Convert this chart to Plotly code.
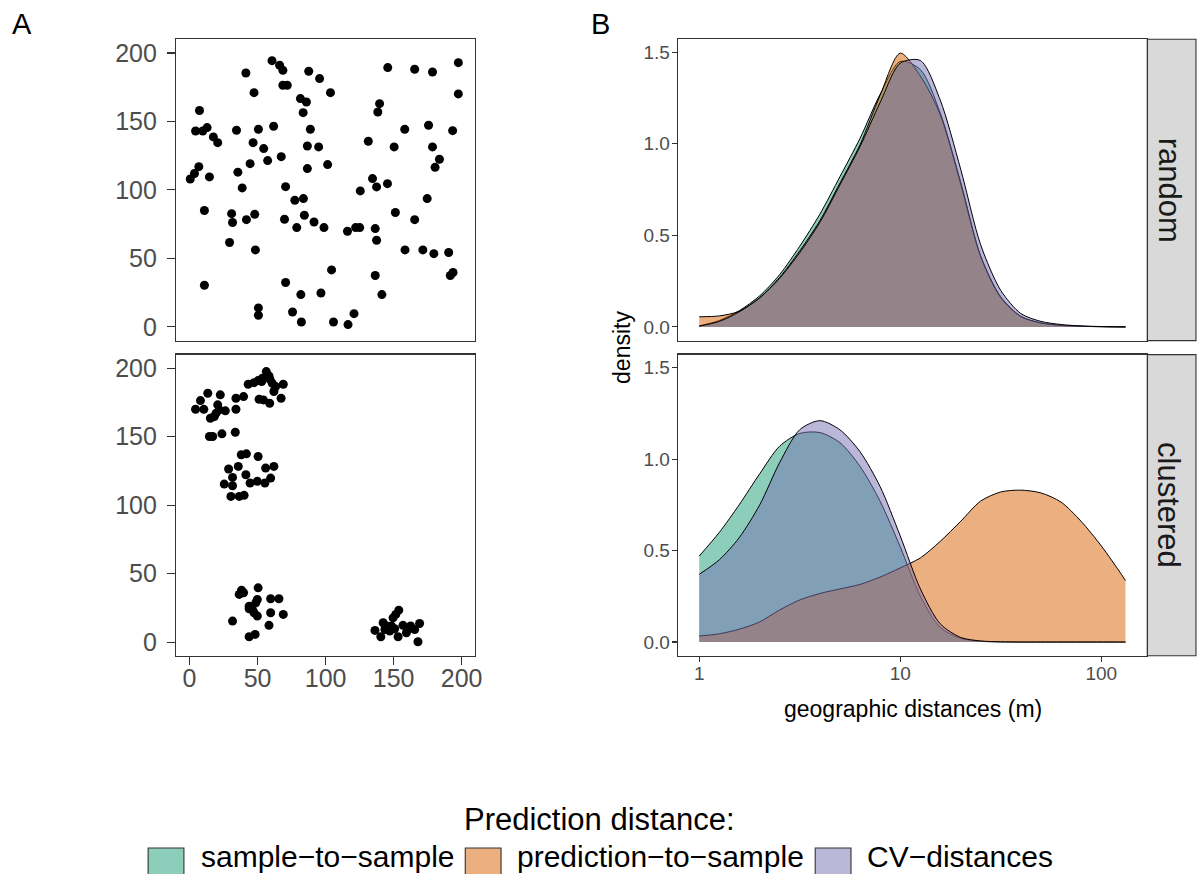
import plotly.graph_objects as go

W, H = 1199, 874


def px(x):
    return x / W


def py(y):
    return 1 - y / H


# ---------------- Panel A: sample locations ----------------
random_x = [0.5, 3.6, 6.8, 7.3, 4.4, 9.7, 12.9, 17.5, 20.7, 14.6, 10.9, 10.9, 29.4, 30.9, 31.6,
            34.5, 35.5, 38.7, 41.4, 44.5, 41.8, 46.7, 47.4, 47.9, 50.6, 54.5, 57.4, 48.4, 50.6,
            50.6, 60.6, 66.2, 68.6, 68.6, 71.8, 61.8, 67.4, 70.6, 69.8, 70.6, 81.5, 85.9, 83.5,
            87.6, 95.6, 103.6, 88.8, 86.6, 94.9, 86.6, 101.5, 77.4, 83.7, 84.4, 78.8, 91.5, 98.8,
            75.7, 82.2, 81.8, 96.6, 104.4, 105.8, 116.1, 120.9, 116.5, 122.1, 125.1, 125.5, 131.4,
            134.5, 137.5, 145.5, 136.5, 137.5, 136.5, 141.4, 139.7, 138.4, 145.7, 150.4, 151.3,
            158.2, 158.4, 165.5, 165.5, 171.5, 174.7, 175.7, 178.6, 178.6, 180.5, 183.7, 179.6,
            190.5, 191.7, 193.7, 193.4, 197.6, 197.6]
random_y = [108.0, 112.0, 117.0, 158.0, 143.0, 143.0, 145.5, 138.7, 134.5, 109.5, 85.0, 30.4,
            61.6, 82.7, 76.2, 143.6, 113.0, 101.5, 185.4, 119.2, 78.3, 134.5, 171.0, 82.2, 144.3,
            130.2, 121.4, 56.2, 13.9, 8.5, 194.4, 191.0, 187.3, 176.4, 176.4, 146.5, 124.3, 102.4,
            78.6, 32.4, 166.7, 164.2, 156.4, 186.6, 181.3, 171.0, 144.3, 132.1, 131.4, 115.6, 118.5,
            92.5, 93.7, 81.5, 72.5, 76.6, 72.5, 10.9, 3.6, 23.6, 24.8, 41.6, 3.6, 69.8, 9.7, 1.7,
            72.5, 72.5, 99.3, 135.5, 108.3, 102.2, 104.6, 71.8, 63.3, 37.5, 23.6, 163.0, 156.9,
            189.3, 131.4, 83.5, 144.3, 56.2, 188.1, 78.3, 56.2, 93.7, 147.2, 186.1, 131.4, 116.5,
            122.4, 53.5, 54.3, 37.5, 39.7, 143.3, 192.9, 170.1]

clustered_x = [4.4, 8.0, 10.5, 13.4, 15.3, 18.2, 21.9, 22.6, 20.7, 26.3, 14.6, 17.0, 23.8, 33.6,
               34.1, 34.1, 39.7, 19.5,
               43.1, 47.4, 50.4, 53.5, 56.4, 59.1, 60.8, 63.3, 68.9, 62.0, 67.3, 51.1, 54.3, 58.9,
               53.0, 58.4,
               41.8, 38.0, 50.4, 28.7, 35.8, 31.6, 25.5, 31.6, 30.4, 36.5, 40.1, 41.4, 44.5, 55.9,
               62.0, 59.6, 55.4, 49.8,
               31.6, 38.2, 36.5, 39.7, 50.4, 43.8, 48.7, 43.8, 47.4, 49.8, 59.6, 59.6, 65.7, 68.9,
               58.4, 43.8, 48.2, 46.2, 49.8,
               136.3, 140.6, 142.3, 144.8, 147.2, 149.6, 153.8, 151.6, 148.4, 153.3, 156.9, 159.4,
               162.5, 165.5, 169.1, 167.9, 150.8, 143.6, 160.6]
clustered_y = [170.1, 176.4, 170.0, 181.8, 163.5, 164.8, 169.6, 180.6, 173.3, 168.9, 150.2, 150.2,
               152.1, 153.3, 170.1, 178.1, 179.3, 167.2,
               188.3, 189.5, 191.0, 192.7, 197.6, 192.0, 189.0, 186.6, 188.3, 183.0, 178.1, 177.4,
               176.9, 174.5, 190.3, 194.4,
               137.5, 136.8, 135.6, 126.4, 128.3, 120.3, 115.4, 114.2, 106.4, 106.4, 107.2, 122.2,
               116.2, 127.1, 128.3, 119.8, 116.2, 117.4,
               15.3, 37.9, 34.8, 36.0, 39.6, 26.2, 28.7, 24.3, 21.4, 19.0, 21.4, 31.6, 31.6, 20.2,
               12.2, 3.9, 5.6, 23.8, 31.1,
               8.5, 3.9, 14.1, 11.7, 8.0, 17.7, 23.3, 20.2, 11.7, 3.9, 12.2, 6.8, 11.7, 9.2, 13.6,
               0.2, 9.7, 9.2, 9.2]

coord_ticks = [0, 50, 100, 150, 200]

# ---------------- Panel B: density of distances ----------------
dist_m = [1, 1.26, 1.58, 2.0, 2.51, 3.16, 3.98, 5.01, 6.31, 7.94, 10, 12.6, 15.8, 20, 25.1,
          31.6, 39.8, 50.1, 63.1, 79.4, 100, 126, 132]

random_s2s = [0.005, 0.035, 0.088, 0.17, 0.285, 0.44, 0.615, 0.82, 1.03, 1.27, 1.45, 1.405,
              1.17, 0.79, 0.39, 0.165, 0.058, 0.022, 0.009, 0.004, 0.001, 0.0, 0.0]
random_p2s = [0.055, 0.06, 0.085, 0.16, 0.27, 0.415, 0.58, 0.785, 0.995, 1.265, 1.495, 1.37,
              1.16, 0.78, 0.385, 0.16, 0.056, 0.021, 0.008, 0.003, 0.001, 0.0, 0.0]
random_cv = [0.004, 0.03, 0.082, 0.158, 0.265, 0.405, 0.57, 0.775, 0.985, 1.225, 1.44, 1.455,
             1.24, 0.86, 0.45, 0.2, 0.073, 0.03, 0.013, 0.005, 0.002, 0.0, 0.0]

clustered_s2s = [0.47, 0.60, 0.75, 0.92, 1.07, 1.14, 1.145, 1.09, 0.96, 0.77, 0.52, 0.25, 0.08,
                 0.02, 0.004, 0.001, 0.0, 0.0, 0.0, 0.0, 0.0, 0.0, 0.0]
clustered_p2s = [0.033, 0.045, 0.07, 0.11, 0.175, 0.23, 0.265, 0.29, 0.315, 0.355, 0.405, 0.46,
                 0.55, 0.66, 0.77, 0.82, 0.83, 0.815, 0.765, 0.66, 0.526, 0.37, 0.336]
clustered_cv = [0.37, 0.45, 0.57, 0.75, 0.98, 1.16, 1.21, 1.16, 1.04, 0.85, 0.58, 0.29, 0.10,
                0.025, 0.006, 0.001, 0.0, 0.0, 0.0, 0.0, 0.0, 0.0, 0.0]

series_names = ["sample−to−sample", "prediction−to−sample", "CV−distances"]
fill_colors = ["rgba(27,158,119,0.5)", "rgba(217,95,2,0.5)", "rgba(117,112,179,0.5)"]
facet_names = ["random", "clustered"]
density_ticks = [0.0, 0.5, 1.0, 1.5]
dist_ticks = [1, 10, 100]

FONT = "Liberation Sans, Arial, Helvetica, sans-serif"
BORDER = "#333333"
TICKCOL = "#4D4D4D"

fig = go.Figure()

# Panel A points
fig.add_trace(go.Scatter(x=random_x, y=random_y, mode="markers",
                         marker=dict(color="black", size=9), xaxis="x", yaxis="y",
                         showlegend=False, hoverinfo="skip"))
fig.add_trace(go.Scatter(x=clustered_x, y=clustered_y, mode="markers",
                         marker=dict(color="black", size=9), xaxis="x2", yaxis="y2",
                         showlegend=False, hoverinfo="skip"))

# Panel B densities
panels = [("x3", "y3", [random_s2s, random_p2s, random_cv]),
          ("x4", "y4", [clustered_s2s, clustered_p2s, clustered_cv])]
for xa, ya, series in panels:
    for name, col, vals in zip(series_names, fill_colors, series):
        fig.add_trace(go.Scatter(x=dist_m, y=vals, mode="lines", name=name,
                                 line=dict(color="black", width=1.0, shape="spline",
                                           smoothing=0.8),
                                 fill="tozeroy", fillcolor=col, xaxis=xa, yaxis=ya,
                                 showlegend=False, hoverinfo="skip"))

box = dict(showline=True, mirror=True, linecolor=BORDER, linewidth=1.1, showgrid=False,
           zeroline=False)

A_x = [px(177), px(478)]
B_x = [px(681.7), px(1154)]
top_y = [py(340), py(38.3)]
bot_y = [py(655.5), py(354)]

A_tickfont = dict(size=25, color=TICKCOL, family=FONT)
B_tickfont = dict(size=19, color=TICKCOL, family=FONT)

fig.update_layout(
    width=W, height=H, margin=dict(l=0, r=0, t=0, b=0),
    paper_bgcolor="white", plot_bgcolor="white",
    font=dict(family=FONT, color="black"),
    showlegend=False,
    xaxis=dict(domain=A_x, anchor="y", range=[-10, 210], showticklabels=False, ticks="",
               **box),
    yaxis=dict(domain=top_y, anchor="x", range=[-10, 210], tickvals=coord_ticks,
               ticks="outside", ticklen=8, tickwidth=1.1, tickcolor=BORDER,
               ticklabelstandoff=5, tickfont=A_tickfont, **box),
    xaxis2=dict(domain=A_x, anchor="y2", range=[-10, 210], tickvals=coord_ticks,
                ticks="outside", ticklen=8, tickwidth=1.1, tickcolor=BORDER,
                ticklabelstandoff=-8, tickfont=A_tickfont, **box),
    yaxis2=dict(domain=bot_y, anchor="x2", range=[-10, 210], tickvals=coord_ticks,
                ticks="outside", ticklen=8, tickwidth=1.1, tickcolor=BORDER,
                ticklabelstandoff=5, tickfont=A_tickfont, **box),
    xaxis3=dict(domain=B_x, anchor="y3", type="log", range=[-0.107, 2.229],
                showticklabels=False, ticks="", **box),
    yaxis3=dict(domain=top_y, anchor="x3", range=[-0.075, 1.571], tickvals=density_ticks,
                ticktext=[f"{v:.1f}" for v in density_ticks],
                ticks="outside", ticklen=5, tickwidth=1.1, tickcolor=BORDER,
                ticklabelstandoff=-2, tickfont=B_tickfont, **box),
    xaxis4=dict(domain=B_x, anchor="y4", type="log", range=[-0.107, 2.229],
                tickvals=dist_ticks, ticktext=[str(v) for v in dist_ticks],
                ticks="outside", ticklen=5, tickwidth=1.1, tickcolor=BORDER,
                ticklabelstandoff=-5, tickfont=B_tickfont, **box),
    yaxis4=dict(domain=bot_y, anchor="x4", range=[-0.075, 1.571], tickvals=density_ticks,
                ticktext=[f"{v:.1f}" for v in density_ticks],
                ticks="outside", ticklen=5, tickwidth=1.1, tickcolor=BORDER,
                ticklabelstandoff=-2, tickfont=B_tickfont, **box),
)

shapes = []
annotations = []

# facet strips
for (y0, y1), label in zip([top_y, bot_y], facet_names):
    shapes.append(dict(type="rect", xref="paper", yref="paper", x0=px(1154), x1=px(1203),
                       y0=y0, y1=y1, fillcolor="#D9D9D9",
                       line=dict(color=BORDER, width=1.1), layer="below"))
    annotations.append(dict(x=px(1176), y=(y0 + y1) / 2, xref="paper", yref="paper",
                            text=label, showarrow=False, textangle=90,
                            font=dict(size=31, color="#1A1A1A", family=FONT),
                            xanchor="center", yanchor="middle"))

# panel tags
annotations.append(dict(x=px(22.5), y=py(23), xref="paper", yref="paper", text="A",
                        showarrow=False, font=dict(size=29, color="black", family=FONT),
                        xanchor="center", yanchor="middle"))
annotations.append(dict(x=px(604), y=py(23), xref="paper", yref="paper", text="B",
                        showarrow=False, font=dict(size=29, color="black", family=FONT),
                        xanchor="center", yanchor="middle"))

# axis titles of panel B
annotations.append(dict(x=px(625), y=py(347), xref="paper", yref="paper", text="density",
                        showarrow=False, textangle=-90,
                        font=dict(size=23, color="black", family=FONT),
                        xanchor="center", yanchor="middle"))
annotations.append(dict(x=px(918), y=py(709), xref="paper", yref="paper",
                        text="geographic distances (m)", showarrow=False,
                        font=dict(size=23, color="black", family=FONT),
                        xanchor="center", yanchor="middle"))

# legend
annotations.append(dict(x=px(603), y=py(819), xref="paper", yref="paper",
                        text="Prediction distance:", showarrow=False,
                        font=dict(size=31, color="black", family=FONT),
                        xanchor="center", yanchor="middle"))
swatch_x = [149, 468, 820]
text_x = [200, 518, 870]
for sx, tx, name, col in zip(swatch_x, text_x, series_names, fill_colors):
    shapes.append(dict(type="rect", xref="paper", yref="paper", x0=px(sx), x1=px(sx + 36),
                       y0=py(884), y1=py(848), fillcolor=col,
                       line=dict(color=BORDER, width=1.1)))
    annotations.append(dict(x=px(tx), y=py(856), xref="paper", yref="paper", text=name,
                            showarrow=False, font=dict(size=30, color="black", family=FONT),
                            xanchor="left", yanchor="middle"))

fig.update_layout(shapes=shapes, annotations=annotations)

fig.write_html("out.html",
               config={"displayModeBar": False, "staticPlot": True},
               post_script="document.body.style.margin='0';"
                           "document.body.style.overflow='hidden';")
